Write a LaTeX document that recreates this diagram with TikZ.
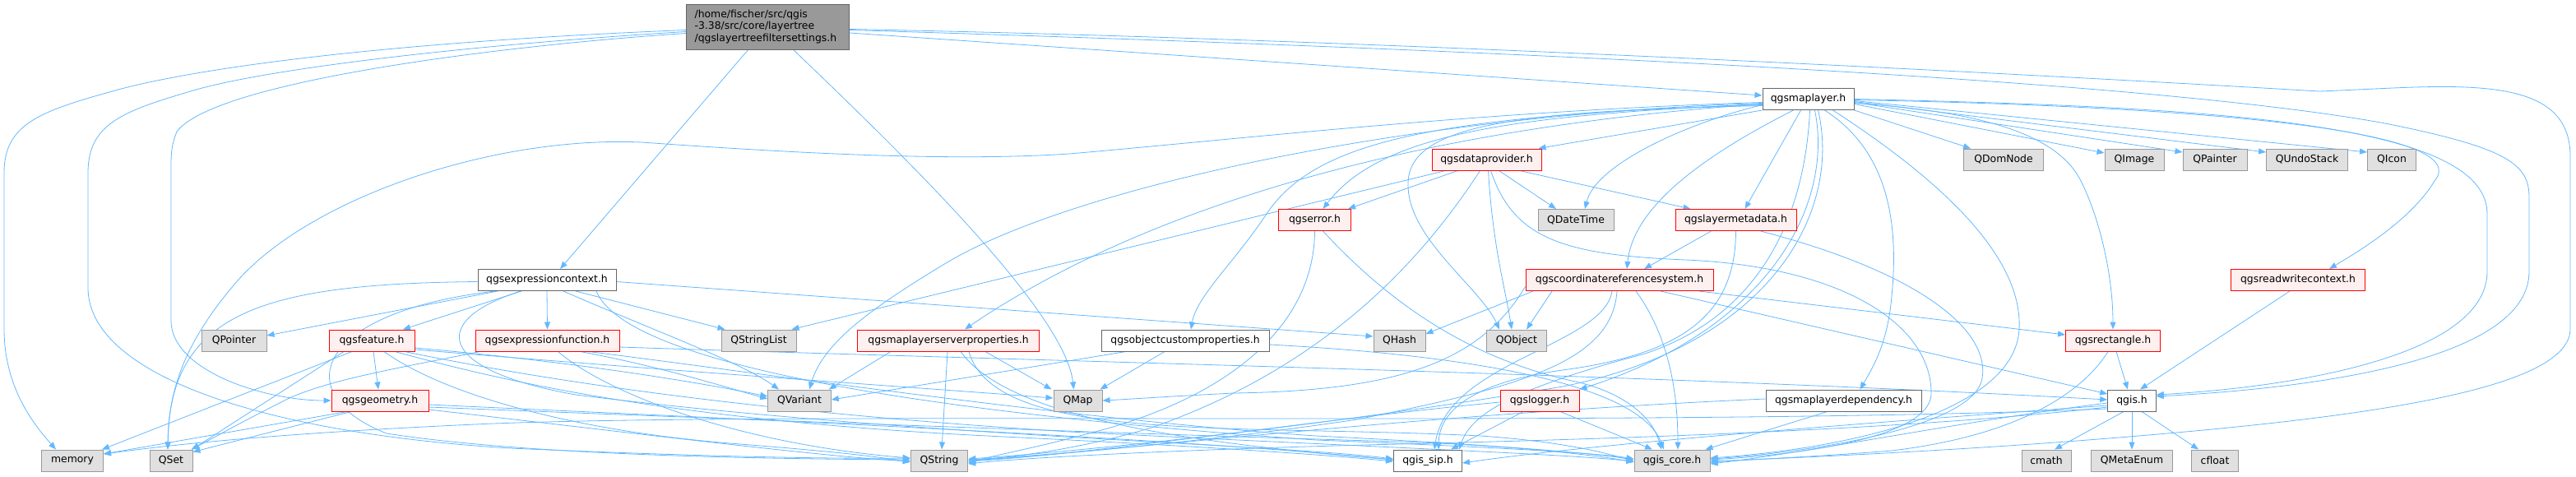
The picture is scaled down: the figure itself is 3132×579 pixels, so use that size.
\documentclass[tikz,border=0pt]{standalone}
\usepackage{fontspec}
\setmainfont{DejaVu Sans}
\usetikzlibrary{arrows.meta,backgrounds}
\definecolor{depblue}{RGB}{99,184,255}
\definecolor{sysfill}{HTML}{E0E0E0}
\definecolor{sysdraw}{HTML}{999999}
\definecolor{docdraw}{HTML}{666666}
\definecolor{rootfill}{HTML}{999999}
\definecolor{truncfill}{HTML}{FFF0F0}
\definecolor{truncdraw}{HTML}{FF0000}
\tikzset{
  >={Triangle[length=9pt,width=7pt]},
  header/.style  = { rectangle, line width=1pt, minimum height=26pt, inner sep=0pt,
                     font=\fontsize{12.4}{14.7}\selectfont },
  boxw/.style    = { minimum width=#1pt },
  sysbox/.style  = { header, draw=sysdraw, fill=sysfill },
  docbox/.style  = { header, draw=docdraw, fill=white },
  trunc/.style   = { header, draw=truncdraw, fill=truncfill },
  rootbox/.style = { header, draw=docdraw, fill=rootfill, align=left,
                     text width=178pt, minimum height=55pt },
  dep/.style     = { ->, depblue, line width=0.8pt }
}
\begin{document}
\begin{tikzpicture}[x=1pt, y=-1pt]
  \useasboundingbox (0,0) rectangle (3132,579);
  % the file itself
  \node[rootbox, boxw=198] (root) at (933.6,32.5)
    {/home/fischer/src/qgis\\-3.38/src/core/layertree\\/qgslayertreefiltersettings.h};
  % row 2-4
  \node[docbox, boxw=111] (maplayer)   at (2198.5,120.5) {qgsmaplayer.h};
  \node[trunc,  boxw=133] (dataprov)   at (1807.5,194) {qgsdataprovider.h};
  \node[sysbox, boxw=96.5] (qdomnode)  at (2436,194) {QDomNode};
  \node[sysbox, boxw=72] (qimage)      at (2595,194) {QImage};
  \node[sysbox, boxw=78] (qpainter)    at (2693,194) {QPainter};
  \node[sysbox, boxw=99] (qundostack)  at (2805,194) {QUndoStack};
  \node[sysbox, boxw=59] (qicon)       at (2908,194) {QIcon};
  \node[trunc,  boxw=88] (error)       at (1598.5,267.5) {qgserror.h};
  \node[sysbox, boxw=92] (qdatetime)   at (1916,267.5) {QDateTime};
  \node[trunc,  boxw=147] (layermeta)  at (2110.5,267.5) {qgslayermetadata.h};
  % row 5
  \node[docbox, boxw=168] (exprctx)    at (665,340.5) {qgsexpressioncontext.h};
  \node[trunc,  boxw=228] (crs)        at (1969,340.5) {qgscoordinatereferencesystem.h};
  \node[trunc,  boxw=163] (rwctx)      at (2794,340.5) {qgsreadwritecontext.h};
  % row 6
  \node[sysbox, boxw=79] (qpointer)    at (284.5,414) {QPointer};
  \node[trunc,  boxw=104] (feature)    at (452,414) {qgsfeature.h};
  \node[trunc,  boxw=175] (exprfunc)   at (665.5,414) {qgsexpressionfunction.h};
  \node[sysbox, boxw=91] (qstringlist) at (922.5,414) {QStringList};
  \node[trunc,  boxw=221] (mlsp)       at (1153,414) {qgsmaplayerserverproperties.h};
  \node[docbox, boxw=204] (ocp)        at (1441,414) {qgsobjectcustomproperties.h};
  \node[sysbox, boxw=63] (qhash)       at (1701.5,414) {QHash};
  \node[sysbox, boxw=72.5] (qobject)   at (1844,414) {QObject};
  \node[trunc,  boxw=115] (rect)       at (2569,414) {qgsrectangle.h};
  % row 7
  \node[trunc,  boxw=118] (geometry)   at (462,487) {qgsgeometry.h};
  \node[sysbox, boxw=76.5] (qvariant)  at (972,487) {QVariant};
  \node[sysbox, boxw=59] (qmap)        at (1310.5,487) {QMap};
  \node[trunc,  boxw=96] (logger)      at (1872,487) {qgslogger.h};
  \node[docbox, boxw=189] (mldep)      at (2241.5,487) {qgsmaplayerdependency.h};
  \node[docbox, boxw=58.6] (qgis)      at (2592,487) {qgis.h};
  % row 8
  \node[sysbox, boxw=75] (memory)      at (88,560) {memory};
  \node[sysbox, boxw=52] (qset)        at (208,560) {QSet};
  \node[sysbox, boxw=69.5] (qstring)   at (1142,560) {QString};
  \node[docbox, boxw=83] (qgissip)     at (1736,560) {qgis\_sip.h};
  \node[sysbox, boxw=92] (qgiscore)    at (2033,560) {qgis\_core.h};
  \node[sysbox, boxw=60] (cmath)       at (2488,560) {cmath};
  \node[sysbox, boxw=99] (qmetaenum)   at (2592,560) {QMetaEnum};
  \node[sysbox, boxw=56.6] (cfloat)    at (2693,560) {cfloat};

  \begin{scope}[on background layer]
  %% includes of the file itself
  \draw[dep] ([yshift=-4pt]root.west) .. controls (450,52) and (230,85) .. (140,110)
    .. controls (50,135) and (5,150) .. (5,210) -- (5,400)
    .. controls (5,470) and (40,515) .. ([xshift=-20pt]memory.north);
  \draw[dep] ([yshift=-6pt]root.west) .. controls (550,56) and (320,85) .. (235,110)
    .. controls (150,135) and (107,150) .. (107,210) -- (107,350)
    .. controls (107,450) and (300,525) .. (620,545)
    .. controls (850,555) and (1000,558) .. ([yshift=3pt]qstring.west);
  \draw[dep] ([yshift=-8pt]root.west) .. controls (600,56) and (260,100) .. (215,160)
    .. controls (209,175) and (208,185) .. (208,200) -- (208,390)
    .. controls (208,450) and (320,487) .. (geometry.west);
  \draw[dep] ([xshift=-24pt]root.south) -- ([xshift=16pt]exprctx.north);
  \draw[dep] ([xshift=31pt]root.south) .. controls (1100,190) and (1295,380) .. ([xshift=-5pt]qmap.north);
  \draw[dep] ([yshift=-7.5pt]root.east) -- ([yshift=4.5pt]maplayer.west);
  \draw[dep] ([yshift=-4pt]root.east) .. controls (1800,60) and (2600,95) .. (2900,150)
    .. controls (3050,180) and (3075,200) .. (3075,240) -- (3075,330)
    .. controls (3075,430) and (2850,470) .. ([yshift=5pt]qgis.east);
  \draw[dep] ([yshift=-3pt]root.east) .. controls (1700,48) and (2550,95) .. (2820,111)
    .. controls (2980,105) and (3125,85) .. (3125,190) -- (3125,400)
    .. controls (3125,470) and (2900,505) .. (2600,530)
    .. controls (2400,547) and (2200,556) .. ([yshift=-1pt]qgiscore.east);

  %% qgsmaplayer.h
  \draw[dep] (maplayer.south west) -- ([xshift=-4pt]dataprov.north east);
  \draw[dep] ([yshift=-7pt]maplayer.west) .. controls (2050,150) and (1940,200) .. ([xshift=11pt]qdatetime.north);
  \draw[dep] ([xshift=-9pt]maplayer.south) -- ([xshift=11pt]layermeta.north);
  \draw[dep] ([yshift=-6pt]maplayer.west) .. controls (1850,140) and (1680,160) .. ([xshift=10pt]error.north);
  \draw[dep] ([xshift=-18pt]maplayer.south) .. controls (2050,200) and (1985,260) .. ([xshift=9pt]crs.north);
  \draw[dep] ([yshift=-8pt]maplayer.west) .. controls (1850,135) and (1710,150) .. (1712,225)
    .. controls (1712,290) and (1800,350) .. ([xshift=-21pt]qobject.north);
  \draw[dep] ([yshift=-5pt]maplayer.west) .. controls (1700,140) and (1300,230) .. (1150,320)
    .. controls (1050,380) and (1000,420) .. ([xshift=12pt]qvariant.north);
  \draw[dep] ([yshift=-4pt]maplayer.west) .. controls (1800,135) and (1500,170) .. (1300,187)
    .. controls (1150,197) and (950,185) .. (780,173)
    .. controls (600,165) and (380,240) .. (290,340)
    .. controls (220,420) and (205,480) .. ([xshift=-4pt]qset.north);
  \draw[dep] ([yshift=-6pt]maplayer.west) .. controls (1650,160) and (1350,280) .. ([xshift=20pt]mlsp.north);
  \draw[dep] ([yshift=-7pt]maplayer.west) .. controls (1750,140) and (1600,170) .. (1540,260)
    .. controls (1500,320) and (1455,360) .. ([xshift=7pt]ocp.north);
  \draw[dep] (maplayer.south east) -- ([xshift=-40pt]qdomnode.north);
  \draw[dep] ([yshift=-6pt]maplayer.east) -- ([yshift=8pt]qimage.west);
  \draw[dep] ([yshift=-4pt]maplayer.east) -- ([yshift=9pt]qpainter.west);
  \draw[dep] ([yshift=-3pt]maplayer.east) -- ([yshift=9pt]qundostack.west);
  \draw[dep] ([yshift=-2pt]maplayer.east) -- ([yshift=9pt]qicon.west);
  \draw[dep] ([yshift=-1pt]maplayer.east) .. controls (2700,130) and (3010,160) .. (2960,220)
    .. controls (2930,270) and (2860,310) .. ([xshift=38pt]rwctx.north);
  \draw[dep] ([yshift=-5pt]maplayer.east) .. controls (2400,135) and (2500,160) .. (2530,220)
    .. controls (2555,270) and (2569,340) .. (rect.north);
  \draw[dep] (maplayer.east) .. controls (2700,130) and (3024,150) .. (3024,260) -- (3024,330)
    .. controls (3024,430) and (2800,470) .. ([yshift=7pt]qgis.east);
  \draw[dep] ([xshift=20pt]maplayer.south) .. controls (2290,180) and (2310,260) .. (2300,360)
    .. controls (2295,420) and (2275,450) .. ([xshift=20pt]mldep.north);
  \draw[dep] ([xshift=30pt]maplayer.south) .. controls (2330,200) and (2460,300) .. (2455,400)
    .. controls (2450,500) and (2250,545) .. ([yshift=3pt]qgiscore.east);
  \draw[dep] ([xshift=2pt]maplayer.south) .. controls (2195,250) and (2150,380) .. (2000,430)
    .. controls (1850,470) and (1790,500) .. ([xshift=-4pt]qgissip.north east);
  \draw[dep] ([xshift=8pt]maplayer.south) .. controls (2230,250) and (2150,400) .. (logger.north east);
  \draw[dep] ([xshift=12pt]maplayer.south) .. controls (2240,260) and (2150,420) .. (1900,470)
    .. controls (1600,520) and (1300,550) .. ([yshift=2pt]qstring.east);

  %% qgsdataprovider.h
  \draw[dep] ([xshift=-50pt]dataprov.south) -- ([xshift=-6pt]qstringlist.north east);
  \draw[dep] ([xshift=-35pt]dataprov.south) -- ([xshift=-4pt]error.north east);
  \draw[dep] ([xshift=-8pt]dataprov.south) .. controls (1720,330) and (1600,450) .. (1400,520)
    .. controls (1300,550) and (1220,556) .. ([yshift=-1pt]qstring.east);
  \draw[dep] ([xshift=2pt]dataprov.south) .. controls (1815,300) and (1830,350) .. ([xshift=-6pt]qobject.north);
  \draw[dep] ([xshift=5pt]dataprov.south) .. controls (1840,290) and (1900,310) .. (2050,316)
    .. controls (2250,325) and (2350,400) .. (2348,480)
    .. controls (2345,530) and (2200,552) .. ([yshift=1pt]qgiscore.east);
  \draw[dep] ([xshift=15pt]dataprov.south) -- ([xshift=-24pt]qdatetime.north);
  \draw[dep] ([xshift=40pt]dataprov.south) -- ([xshift=-55pt]layermeta.north);

  %% qgserror.h, qgslayermetadata.h
  \draw[dep] (error.south) .. controls (1598,380) and (1520,470) .. (1350,520)
    .. controls (1260,545) and (1210,553) .. ([yshift=-3pt]qstring.east);
  \draw[dep] ([xshift=10pt]error.south) .. controls (1700,380) and (1800,440) .. (1920,465)
    .. controls (1980,480) and (2010,510) .. ([xshift=-13pt]qgiscore.north);
  \draw[dep] ([xshift=-30pt]layermeta.south) -- ([xshift=30pt]crs.north);
  \draw[dep] (layermeta.south) .. controls (2110,380) and (2050,430) .. (1900,450)
    .. controls (1790,465) and (1750,500) .. ([xshift=13pt]qgissip.north);
  \draw[dep] ([xshift=30pt]layermeta.south) .. controls (2330,330) and (2420,400) .. (2410,460)
    .. controls (2400,520) and (2200,550) .. ([yshift=2pt]qgiscore.east);

  %% qgscoordinatereferencesystem.h
  \draw[dep] ([xshift=-105pt]crs.south) -- ([yshift=8pt]qhash.east);
  \draw[dep] ([xshift=-82pt]crs.south) -- ([xshift=12pt]qobject.north);
  \draw[dep] ([xshift=-9pt]crs.south) .. controls (1950,420) and (1760,440) .. ([xshift=8pt]qgissip.north);
  \draw[dep] ([xshift=-3pt]crs.south) .. controls (1960,440) and (1850,470) .. (1650,510)
    .. controls (1450,540) and (1250,555) .. ([yshift=1pt]qstring.east);
  \draw[dep] ([xshift=20pt]crs.south) .. controls (2030,410) and (2040,480) .. ([xshift=7pt]qgiscore.north);
  \draw[dep] ([xshift=50pt]crs.south) -- ([yshift=8pt]qgis.west);
  \draw[dep] ([xshift=-18pt]crs.south east) -- ([yshift=7pt]rect.west);
  \draw[dep] ([yshift=-8pt]crs.west) .. controls (1800,440) and (1700,475) .. (1500,478)
    .. controls (1420,482) and (1380,485) .. (qmap.east);

  %% qgslogger.h, qgsmaplayerdependency.h, qgsrectangle.h, qgsreadwritecontext.h
  \draw[dep] ([yshift=-2pt]logger.west) .. controls (1600,510) and (1350,550) .. ([yshift=-1pt]qstring.east);
  \draw[dep] ([xshift=-20pt]logger.south) -- ([xshift=28pt]qgissip.north);
  \draw[dep] ([xshift=25pt]logger.south) -- ([xshift=-24pt]qgiscore.north);
  \draw[dep] ([xshift=-20pt]mldep.south) -- ([xshift=-6pt]qgiscore.north east);
  \draw[dep] ([yshift=2pt]mldep.west) .. controls (1700,505) and (1350,550) .. (qstring.east);
  \draw[dep] ([xshift=4pt]rect.south) -- ([xshift=-5pt]qgis.north);
  \draw[dep] ([xshift=-6pt]rect.south) .. controls (2530,480) and (2450,530) .. (2300,548)
    .. controls (2200,556) and (2120,559) .. ([yshift=-2pt]qgiscore.east);
  \draw[dep] ([xshift=-10pt]rwctx.south) -- ([xshift=10pt]qgis.north);

  %% qgis.h
  \draw[dep] ([xshift=-10pt]qgis.south) -- ([xshift=10pt]cmath.north);
  \draw[dep] (qgis.south) -- (qmetaenum.north);
  \draw[dep] ([xshift=12pt]qgis.south) -- ([xshift=-20pt]cfloat.north);
  \draw[dep] ([yshift=-3pt]qgis.west) .. controls (2400,510) and (2200,550) .. ([yshift=-4pt]qgiscore.east);
  \draw[dep] ([yshift=-6pt]qgis.west) .. controls (2300,512) and (1950,538) .. ([yshift=-3pt]qgissip.east);
  \draw[dep] ([yshift=-8pt]qgis.west) .. controls (2300,525) and (1900,535) .. (1700,540)
    .. controls (1450,546) and (1250,556) .. ([yshift=-4pt]qstring.east);
  \draw[dep] ([yshift=-10pt]qgis.west) .. controls (2000,520) and (1000,500) .. (600,515)
    .. controls (300,528) and (180,545) .. ([yshift=8pt]memory.east);

  %% qgsexpressioncontext.h
  \draw[dep] ([yshift=-2pt]exprctx.west) .. controls (320,345) and (206,380) .. ([xshift=-4pt]qset.north);
  \draw[dep] ([xshift=-63pt]exprctx.south) .. controls (380,380) and (350,480) .. (470,527)
    .. controls (650,555) and (950,558) .. ([yshift=1pt]qstring.west);
  \draw[dep] ([xshift=-60pt]exprctx.south) -- ([yshift=6pt]qpointer.east);
  \draw[dep] ([xshift=-31pt]exprctx.south) -- ([xshift=38pt]feature.north);
  \draw[dep] (exprctx.south) -- (exprfunc.north);
  \draw[dep] ([xshift=20pt]exprctx.south) .. controls (790,400) and (900,440) .. ([xshift=-25pt]qvariant.north);
  \draw[dep] ([xshift=35pt]exprctx.south) -- ([xshift=5pt]qstringlist.north west);
  \draw[dep] ([yshift=-2pt]exprctx.east) -- ([yshift=5pt]qhash.west);
  \draw[dep] ([xshift=-32pt]exprctx.south) .. controls (520,390) and (530,450) .. (700,480)
    .. controls (1100,530) and (1550,540) .. ([yshift=2pt]qgissip.west);
  \draw[dep] ([xshift=60pt]exprctx.south) .. controls (760,440) and (1100,500) .. (1600,535)
    .. controls (1850,545) and (1950,552) .. ([yshift=2pt]qgiscore.west);

  %% qgsfeature.h
  \draw[dep] ([xshift=2pt]feature.south) -- ([xshift=-2pt]geometry.north);
  \draw[dep] ([xshift=-24pt]feature.south) -- ([xshift=-2pt]memory.north east);
  \draw[dep] ([xshift=-34pt]feature.south) -- ([xshift=-1pt]qset.north east);
  \draw[dep] ([yshift=-9pt]feature.east) .. controls (700,440) and (850,465) .. ([yshift=5pt]qvariant.west);
  \draw[dep] ([yshift=-11pt]feature.east) .. controls (800,450) and (1100,470) .. ([yshift=3pt]qmap.west);
  \draw[dep] ([xshift=15pt]feature.south) .. controls (540,480) and (700,525) .. (900,540)
    .. controls (1000,548) and (1060,554) .. ([yshift=-2pt]qstring.west);
  \draw[dep] ([xshift=28pt]feature.south) .. controls (600,460) and (800,510) .. (1200,530)
    .. controls (1450,542) and (1600,552) .. ([yshift=-1pt]qgissip.west);
  \draw[dep] ([xshift=40pt]feature.south) .. controls (650,460) and (900,500) .. (1300,525)
    .. controls (1700,545) and (1900,552) .. ([yshift=-1pt]qgiscore.west);

  %% qgsexpressionfunction.h
  \draw[dep] ([xshift=-82pt]exprfunc.south) .. controls (500,445) and (390,462) .. (340,490)
    .. controls (290,515) and (255,535) .. ([xshift=-2pt]qset.north east);
  \draw[dep] ([xshift=13pt]exprfunc.south) .. controls (740,480) and (900,540) .. ([yshift=3pt]qstring.west);
  \draw[dep] ([xshift=40pt]exprfunc.south) .. controls (800,445) and (880,470) .. ([yshift=2pt]qvariant.west);
  \draw[dep] ([yshift=-8pt]exprfunc.east) .. controls (1300,440) and (2000,455) .. ([yshift=1pt]qgis.west);
  \draw[dep] ([xshift=50pt]exprfunc.south) .. controls (900,450) and (1300,510) .. (1600,530)
    .. controls (1800,540) and (1930,550) .. ([yshift=1pt]qgiscore.west);

  %% qgsgeometry.h
  \draw[dep] ([xshift=-40pt]geometry.south) -- ([yshift=8pt]memory.east);
  \draw[dep] ([xshift=-35pt]geometry.south) -- ([yshift=-3pt]qset.north east);
  \draw[dep] ([yshift=-11pt]geometry.east) .. controls (800,530) and (1000,555) .. ([yshift=-1pt]qstring.west);
  \draw[dep] ([yshift=-5pt]geometry.east) .. controls (800,505) and (1400,530) .. ([yshift=1pt]qgissip.west);
  \draw[dep] ([yshift=-8pt]geometry.east) .. controls (900,510) and (1300,525) .. (1700,537)
    .. controls (1850,542) and (1950,555) .. ([yshift=-2pt]qgiscore.west);

  %% qgsmaplayerserverproperties.h, qgsobjectcustomproperties.h
  \draw[dep] ([xshift=-70pt]mlsp.south) -- ([xshift=-3pt]qvariant.north east);
  \draw[dep] ([xshift=45pt]mlsp.south) -- ([xshift=-2pt]qmap.north west);
  \draw[dep] ([xshift=-1pt]mlsp.south) -- ([xshift=3pt]qstring.north);
  \draw[dep] ([xshift=15pt]mlsp.south) .. controls (1220,500) and (1400,535) .. ([yshift=1pt]qgissip.west);
  \draw[dep] ([xshift=25pt]mlsp.south) .. controls (1210,540) and (1500,515) .. (1800,530)
    .. controls (1900,537) and (1950,550) .. ([yshift=-1pt]qgiscore.west);
  \draw[dep] ([xshift=-72pt]ocp.south) -- ([yshift=1pt]qvariant.east);
  \draw[dep] ([xshift=-25pt]ocp.south) -- ([xshift=-3pt]qmap.north east);
  \draw[dep] ([yshift=-5pt]ocp.east) .. controls (1750,430) and (1990,460) .. ([xshift=-10pt]qgiscore.north);
  \end{scope}
\end{tikzpicture}
\end{document}
